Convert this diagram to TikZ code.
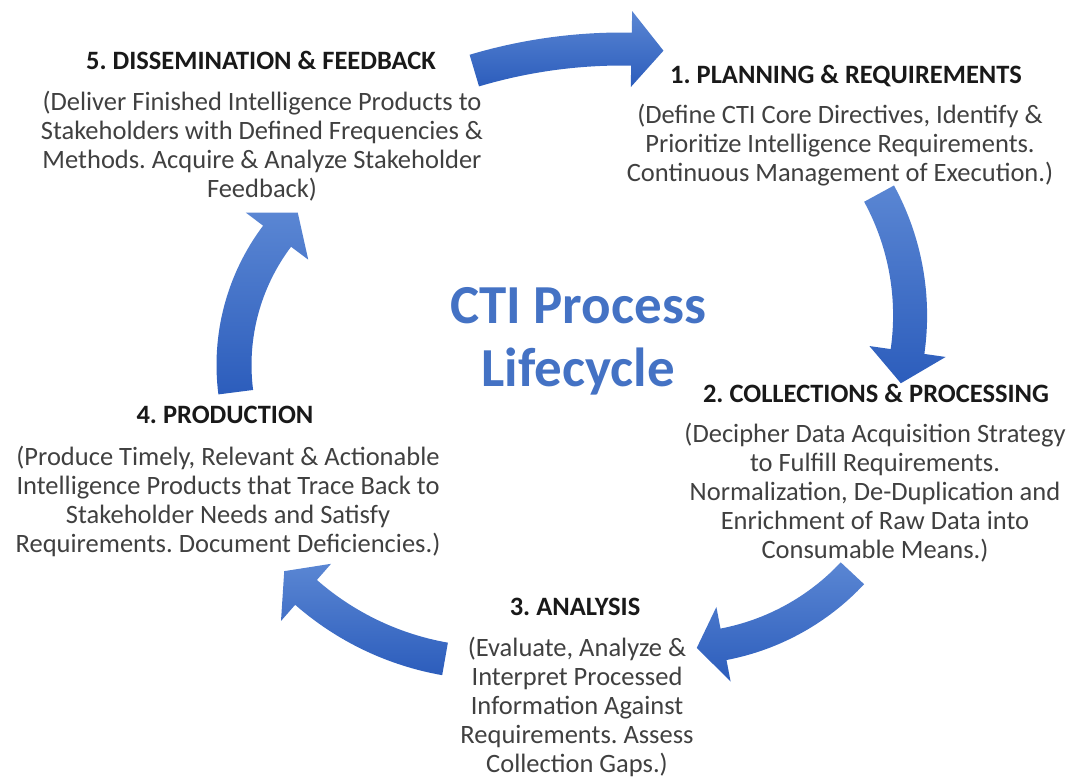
\documentclass[tikz,border=0pt]{standalone}
\usepackage{fontspec}
\setmainfont{Carlito}

\definecolor{ctiblue}{RGB}{68,114,196}
\definecolor{arrowtop}{RGB}{90,134,211}
\definecolor{arrowbot}{RGB}{44,93,188}
\definecolor{bodygray}{RGB}{64,64,64}

\tikzset{
  stagetitle/.style={font=\fontsize{26.5}{29}\selectfont\bfseries, text=black!90, inner sep=0pt},
  stagetext/.style={font=\fontsize{26.5}{29}\selectfont, text=bodygray, align=center, inner sep=0pt},
  arrowfill/.style={top color=arrowtop, bottom color=arrowbot, draw=none},
}

% curved block arrow: centre x, centre y, radius, tail angle, head angle, tip angle, half shaft, half head
\newcommand{\ctiarrow}[8]{%
  \shade[arrowfill] ({#1+(#3+#7)*cos(#4)},{#2+(#3+#7)*sin(#4)})
    arc[start angle=#4, end angle=#5, radius=#3+#7]
    -- ({#1+(#3+#8)*cos(#5)},{#2+(#3+#8)*sin(#5)})
    -- ({#1+#3*cos(#6)},{#2+#3*sin(#6)})
    -- ({#1+(#3-#8)*cos(#5)},{#2+(#3-#8)*sin(#5)})
    -- ({#1+(#3-#7)*cos(#5)},{#2+(#3-#7)*sin(#5)})
    arc[start angle=#5, end angle=#4, radius=#3-#7] -- cycle;}

\frenchspacing

\begin{document}
\begin{tikzpicture}[x=1pt, y=-1pt]
    \useasboundingbox (0,0) rectangle (1075,778);

    % arrows between the stages
    \ctiarrow{622}{566}{517}{253.4}{271.05}{274.6}{16.5}{38}
    \ctiarrow{655.7}{315.4}{254.4}{-28.6}{8.16}{15.47}{17}{38.5}
    \ctiarrow{679}{411}{237.5}{43.1}{79.2}{85.7}{16}{38}
    \ctiarrow{494.4}{377.2}{286}{99.94}{131.2}{137.3}{16.5}{38}
    \ctiarrow{448}{365}{214}{172.7}{217}{225.4}{17.5}{39}

    % centre title
    \node[font=\fontsize{55}{63}\selectfont\bfseries, text=ctiblue, align=center] (cti) at (578,341) {CTI Process\\Lifecycle};

    % stages
    \node[stagetitle] (t1) at (846,76) {1. PLANNING \& REQUIREMENTS};
    \node[stagetext] (b1) at (840,145) {(Define CTI Core Directives, Identify \&\\Prioritize Intelligence Requirements.\\Continuous Management of Execution.)};

    \node[stagetitle] (t2) at (876,393) {2. COLLECTIONS \& PROCESSING};
    \node[stagetext] (b2) at (875,493) {(Decipher Data Acquisition Strategy\\to Fulfill Requirements.\\Normalization, De-Duplication and\\Enrichment of Raw Data into\\Consumable Means.)};

    \node[stagetitle] (t3) at (575,607) {3. ANALYSIS};
    \node[stagetext] (b3) at (577,707) {(Evaluate, Analyze \&\\Interpret Processed\\Information Against\\Requirements. Assess\\Collection Gaps.)};

    \node[stagetitle] (t4) at (225,415) {4. PRODUCTION};
    \node[stagetext] (b4) at (228,501) {(Produce Timely, Relevant \& Actionable\\Intelligence Products that Trace Back to\\Stakeholder Needs and Satisfy\\Requirements. Document Deficiencies.)};

    \node[stagetitle] (t5) at (261,60) {5. DISSEMINATION \& FEEDBACK};
    \node[stagetext] (b5) at (262,146) {(Deliver Finished Intelligence Products to\\Stakeholders with Defined Frequencies \&\\Methods. Acquire \& Analyze Stakeholder\\Feedback)};
\end{tikzpicture}
\end{document}
